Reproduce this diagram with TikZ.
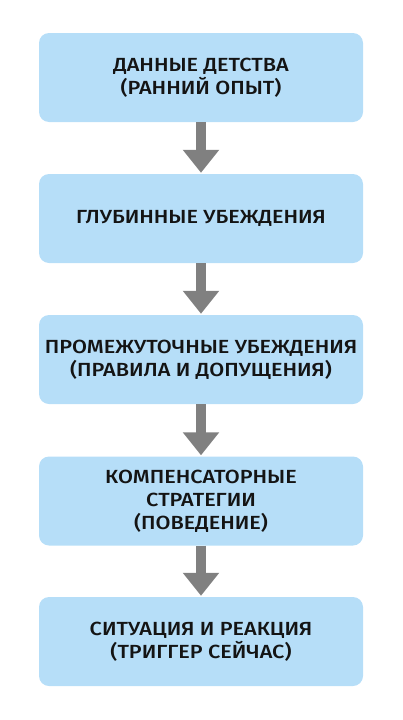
\documentclass[tikz,border=0pt]{standalone}
\usepackage{fontspec}
\setmainfont{Fira Sans}[UprightFont=* Medium, FakeStretch=1.14]
\usetikzlibrary{arrows.meta}
\definecolor{boxblue}{RGB}{182,222,248}
\definecolor{arrowgray}{RGB}{128,128,128}
\definecolor{txt}{RGB}{20,20,20}
\tikzset{
  x=1pt, y=1pt,
  stagebox/.style={fill=boxblue, draw=none, rounded corners=10pt,
    minimum width=324pt, minimum height=89pt, align=center,
    text=txt, font=\fontsize{19}{23}\selectfont, inner sep=0pt},
  flowarrow/.style={draw=arrowgray, line width=10pt,
    -{Triangle[width=35pt,length=23pt,fill=arrowgray]}, shorten >=1pt}
}
\begin{document}
\begin{tikzpicture}
\useasboundingbox (0,0) rectangle (402,-720);
\node[stagebox] (b1) at (201,-77.5) {ДАННЫЕ ДЕТСТВА\\(РАННИЙ ОПЫТ)};
\node[stagebox] (b2) at (201,-218.5) {ГЛУБИННЫЕ УБЕЖДЕНИЯ};
\node[stagebox] (b3) at (201,-359.5) {ПРОМЕЖУТОЧНЫЕ УБЕЖДЕНИЯ\\(ПРАВИЛА И ДОПУЩЕНИЯ)};
\node[stagebox] (b4) at (201,-501) {КОМПЕНСАТОРНЫЕ\\СТРАТЕГИИ\\(ПОВЕДЕНИЕ)};
\node[stagebox] (b5) at (201,-641.5) {СИТУАЦИЯ И РЕАКЦИЯ\\(ТРИГГЕР СЕЙЧАС)};
\draw[flowarrow] (b1.south) -- (b2.north);
\draw[flowarrow] (b2.south) -- (b3.north);
\draw[flowarrow] (b3.south) -- (b4.north);
\draw[flowarrow] (b4.south) -- (b5.north);
\end{tikzpicture}
\end{document}
